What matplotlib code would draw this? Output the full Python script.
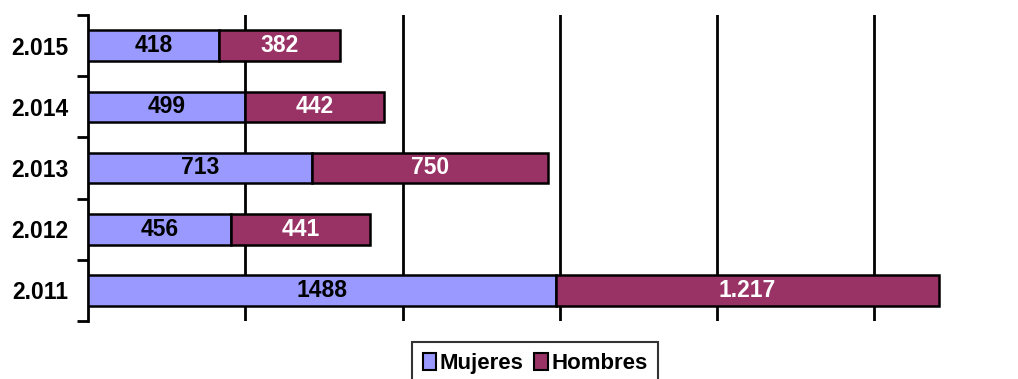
import matplotlib.pyplot as plt
import numpy as np

plt.rcParams['font.family'] = ['Liberation Sans', 'DejaVu Sans']
plt.rcParams['font.weight'] = 'bold'

years = ['2.011', '2.012', '2.013', '2.014', '2.015']
mujeres = [1488, 456, 713, 499, 418]
hombres = [1217, 441, 750, 442, 382]
mujeres_labels = ['1488', '456', '713', '499', '418']
hombres_labels = ['1.217', '441', '750', '442', '382']

W, H = 1018, 379
fig = plt.figure(figsize=(W / 100, H / 100), dpi=100)
# axes: left 88px, top 15px, bottom 321px, x scale 0.3145 px per unit up to 3000
ax = fig.add_axes([88 / W, (H - 321) / H, 3000 * 0.3145 / W, 306 / H])

y = np.arange(len(years))
ax.barh(y, mujeres, height=0.5, color='#9999FF', edgecolor='black', linewidth=1.8, zorder=3)
ax.barh(y, hombres, left=mujeres, height=0.5, color='#993366', edgecolor='black', linewidth=1.8, zorder=3)

for i in range(len(years)):
    ax.text(mujeres[i] / 2, y[i], mujeres_labels[i], ha='center', va='center',
            fontsize=16.5, fontweight='bold', color='black', zorder=4)
    ax.text(mujeres[i] + hombres[i] / 2, y[i], hombres_labels[i], ha='center', va='center',
            fontsize=16.5, fontweight='bold', color='white', zorder=4)

ax.set_xlim(0, 3000)
ax.set_ylim(-0.5, len(years) - 0.5)

ax.set_xticks([500, 1000, 1500, 2000, 2500])
ax.set_xticklabels([])
ax.tick_params(axis='x', length=0)
ax.grid(axis='x', color='black', linewidth=2, zorder=0)

ax.set_yticks(y)
ax.set_yticklabels(years, fontsize=16.5, fontweight='bold')
ax.set_yticks(np.arange(-0.5, len(years)), minor=True)
ax.tick_params(axis='y', which='major', length=0, pad=14)
ax.tick_params(axis='y', which='minor', length=8, width=2, direction='out')

for s in ['top', 'right', 'bottom']:
    ax.spines[s].set_visible(False)
ax.spines['left'].set_linewidth(2)

handles = [plt.Rectangle((0, 0), 1, 1, facecolor='#9999FF', edgecolor='black', linewidth=1.5),
           plt.Rectangle((0, 0), 1, 1, facecolor='#993366', edgecolor='black', linewidth=1.5)]
leg = fig.legend(handles, ['Mujeres', 'Hombres'], loc='upper center',
                 bbox_to_anchor=(535 / W, 1 - 342 / H), ncol=2, fontsize=16, frameon=True,
                 fancybox=False, edgecolor='black', handlelength=0.6, handleheight=0.8,
                 handletextpad=0.15, columnspacing=0.5, borderpad=0.5, borderaxespad=0)
leg.get_frame().set_linewidth(1.5)

fig.savefig('out.png', dpi=100)
